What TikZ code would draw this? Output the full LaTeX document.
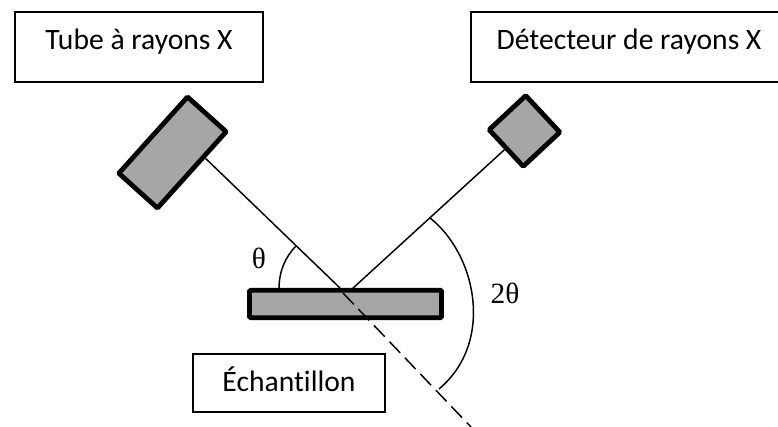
\documentclass[tikz,border=0pt]{standalone}
\usepackage{fontspec}
\setmainfont[Ligatures=NoCommon]{Carlito}
\newfontfamily\greekfont{Liberation Serif}
\usepackage{tikz}
\usetikzlibrary{positioning}
\definecolor{plategray}{HTML}{A6A6A6}
\tikzstyle{labelbox} = [rectangle, draw=black, fill=white, line width=0.8pt, inner sep=0pt, text centered, font=\fontsize{22.2}{24}\selectfont, text height=28.5pt, text depth=24pt]
\tikzstyle{plate} = [rectangle, rounded corners=0.8pt, draw=black, fill=plategray, line width=3.6pt, inner sep=0pt]
\tikzstyle{ray} = [line width=1.1pt]
\tikzstyle{angletext} = [font=\fontsize{22}{24}\selectfont\greekfont, inner sep=0pt]

\begin{document}
\begin{tikzpicture}[x=0.75pt,y=-0.75pt]
	\useasboundingbox (0,0) rectangle (778,427);
	% Nodes
	\node (tube_label) [labelbox, minimum width=186pt] at (139,47) {Tube à rayons X};
	\node (detector_label) [labelbox, minimum width=237pt] at (629,47) {Détecteur de rayons X};
	\node (sample_label) [labelbox, minimum width=144pt, text depth=15pt] at (289,383) {Échantillon};

	\node (tube) [plate, minimum width=77pt, minimum height=39pt, rotate=48] at (172.5,152.5) {};
	\node (detector) [plate, minimum width=37.5pt, minimum height=37.5pt, rotate=43] at (524.5,131) {};
	\node (sample) [plate, minimum width=144pt, minimum height=20.5pt] at (345.5,304) {};

	\coordinate (impact) at (340,288);
	\coordinate (exit) at (343,293);
	\coordinate (reflect) at (352,289);
	\coordinate (far_end) at (471,427);
	\coordinate (theta_start) at (279,289);
	\coordinate (theta_end) at (296,246);
	\coordinate (double_start) at (430,218);
	\coordinate (double_end) at (439,389);

	\node (theta_text) [angletext] at (259,258) {θ};
	\node (double_text) [angletext] at (505,293) {2θ};

	% Arrows
	\draw [ray] (tube.-58) -- (impact);
	\draw [ray] (detector.west) -- (reflect);
	\draw [ray, dash pattern=on 11.7pt off 5.1pt] (exit) -- (far_end);
	\draw [ray] (theta_start) .. controls (279,272) and (284.5,258) .. (theta_end);
	\draw [ray] (double_start) .. controls (476,254) and (495,342) .. (double_end);
\end{tikzpicture}
\end{document}
